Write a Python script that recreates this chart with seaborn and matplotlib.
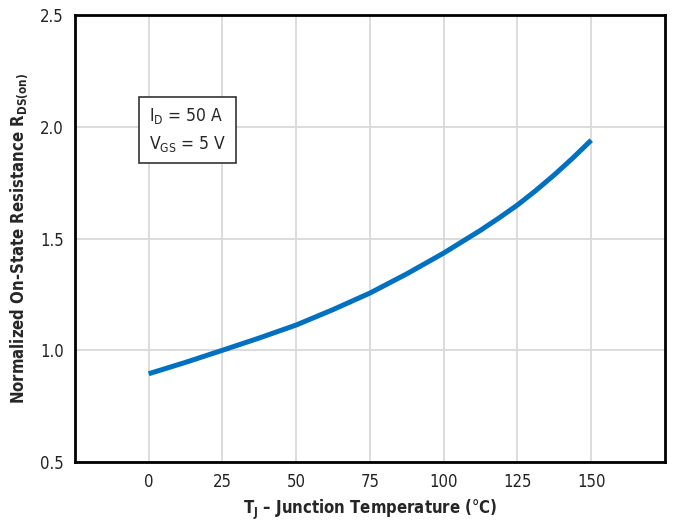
import numpy as np
import pandas as pd
import seaborn as sns
import matplotlib
matplotlib.use("Agg")
from matplotlib import pyplot as plt

# values
temp_c = [0, 12.5, 25, 37.5, 50, 62.5, 75, 87.5, 100, 112.5, 118.75, 125, 131.25, 137.5, 143.75, 150]
rds_norm = [0.895, 0.946, 1.0, 1.055, 1.113, 1.182, 1.256, 1.342, 1.435, 1.537, 1.592, 1.65, 1.715, 1.785, 1.86, 1.94]
x_ticks = [0, 25, 50, 75, 100, 125, 150]
y_ticks = [0.5, 1.0, 1.5, 2.0, 2.5]

df = pd.DataFrame({"T": temp_c, "R": rds_norm})

sns.set_style("white")
font = "DejaVu Sans"
plt.rcParams["font.family"] = [font]
plt.rcParams["font.stretch"] = "condensed"
plt.rcParams["mathtext.fontset"] = "custom"
plt.rcParams["mathtext.rm"] = font + ":stretch=condensed"
plt.rcParams["mathtext.it"] = font + ":stretch=condensed"
plt.rcParams["mathtext.bf"] = font + ":weight=bold:stretch=condensed"

fig = plt.figure(figsize=(6.84, 5.23), dpi=100)
ax = fig.add_axes([0.1096, 0.1166, 0.8626, 0.8547])

sns.lineplot(data=df, x="T", y="R", ax=ax, color="#0070c0", linewidth=3.6,
             solid_capstyle="butt", solid_joinstyle="round")

ax.set_xlim(-25, 175)
ax.set_ylim(0.5, 2.5)
ax.set_xticks(x_ticks)
ax.set_yticks(y_ticks)
ax.set_yticklabels([f"{v:.1f}" for v in y_ticks])
ax.grid(True, color="#d9d9d9", linewidth=1.3)
ax.set_axisbelow(True)
for s in ax.spines.values():
    s.set_color("black")
    s.set_linewidth(2)
ax.tick_params(axis="both", length=0, labelsize=12, colors="#222222", pad=8)

ax.set_xlabel(r"T$_\mathbf{J}$ – Junction Temperature (°C)", fontsize=12, fontweight="bold", labelpad=5)
ax.set_ylabel(r"Normalized On-State Resistance R$_\mathbf{DS(on)}$", fontsize=12, fontweight="bold", labelpad=7)

ax.text(0.125, 0.796, "I$_\\mathrm{D}$ = 50 A\nV$_\\mathrm{GS}$ = 5 V", transform=ax.transAxes,
        fontsize=12.5, va="top", ha="left", linespacing=1.5,
        bbox=dict(boxstyle="square,pad=0.55", facecolor="white", edgecolor="#333333", linewidth=1.2))

fig.savefig("out.png", dpi=100)
